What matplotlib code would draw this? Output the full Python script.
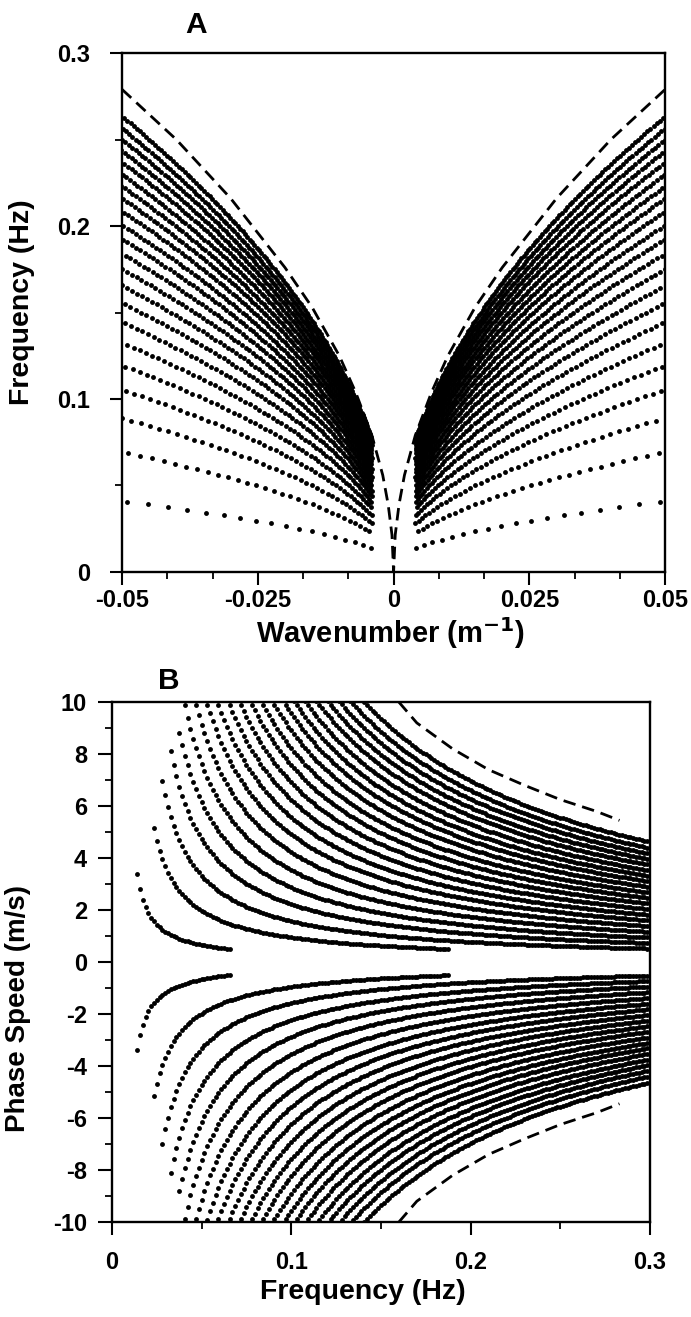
import numpy as np
import matplotlib.pyplot as plt
from matplotlib.ticker import MultipleLocator

plt.rcParams['font.family'] = ['Liberation Sans', 'DejaVu Sans']
plt.rcParams['font.weight'] = 'bold'
plt.rcParams['axes.labelweight'] = 'bold'

# frequency resolution of the dotted mode curves (Hz)
df = 1 / 640
# frequency of each mode curve at |k| = 0.05 m^-1
mode_f50 = [0.041, 0.0695, 0.089, 0.1055, 0.1195, 0.1325, 0.1445, 0.1555,
            0.1655, 0.175, 0.184, 0.1925, 0.2005, 0.2085, 0.216, 0.223,
            0.230, 0.237, 0.2435, 0.250, 0.2565, 0.2635]
# low-wavenumber frequency offset of each mode (from where the curves bend up in B)
mode_b = [0.008, 0.011, 0.0129, 0.0138, 0.0145, 0.015, 0.0155, 0.016,
          0.0163, 0.0166, 0.0169, 0.0172, 0.0174, 0.0176, 0.0178, 0.018,
          0.0182, 0.0183, 0.0184, 0.0185, 0.0186, 0.0187]
k_min = 0.004     # smallest wavenumber shown
c_min = 0.5       # smallest phase speed shown

# dashed curve, panel A
dashA_k = [0.0, 0.0003, 0.001, 0.002, 0.004, 0.007, 0.01, 0.015, 0.02, 0.03, 0.04, 0.05]
dashA_f = [0.0, 0.0215, 0.039, 0.056, 0.079, 0.104, 0.125, 0.153, 0.176, 0.216, 0.250, 0.279]
# dashed curve, panel B
dashB_f = [0.16, 0.17, 0.19, 0.21, 0.23, 0.25, 0.27, 0.283]
dashB_c = [10.0, 9.2, 8.2, 7.4, 6.8, 6.25, 5.8, 5.45]

fig = plt.figure(figsize=(6.91, 13.17), dpi=100)
axA = fig.add_axes([0.1766, 0.5657, 0.786, 0.394])
axB = fig.add_axes([0.162, 0.0721, 0.7786, 0.3948])

f_grid = np.arange(1, 200) * df
ms = 3.5

for f50, b in zip(mode_f50, mode_b):
    a2 = (f50 ** 2 - b ** 2) / 0.05
    k = (f_grid ** 2 - b ** 2) / a2
    ok = k > 0
    f = f_grid[ok]
    k = k[ok]
    c = f / k
    # panel A
    sel = (k >= k_min) & (k <= 0.0502)
    axA.plot(k[sel], f[sel], 'o', color='k', ms=ms, mec='none')
    axA.plot(-k[sel], f[sel], 'o', color='k', ms=ms, mec='none')
    # panel B
    sel = (k >= k_min) & (c >= c_min) & (f <= 0.3)
    axB.plot(f[sel], c[sel], 'o', color='k', ms=ms, mec='none')
    axB.plot(f[sel], -c[sel], 'o', color='k', ms=ms, mec='none')

dk = np.array(dashA_k)
dfa = np.array(dashA_f)
axA.plot(np.concatenate([-dk[::-1], dk[1:]]), np.concatenate([dfa[::-1], dfa[1:]]),
         color='k', lw=2.0, dashes=(4.5, 2.5))
axB.plot(dashB_f, dashB_c, color='k', lw=2.0, dashes=(4.5, 2.5))
axB.plot(dashB_f, [-c for c in dashB_c], color='k', lw=2.0, dashes=(4.5, 2.5))

axA.set_xlim(-0.05, 0.05)
axA.set_ylim(0, 0.3)
axA.set_xticks([-0.05, -0.025, 0, 0.025, 0.05])
axA.set_xticklabels(['-0.05', '-0.025', '0', '0.025', '0.05'])
axA.xaxis.set_minor_locator(MultipleLocator(0.025 / 3))
axA.set_yticks([0, 0.1, 0.2, 0.3])
axA.set_yticklabels(['0', '0.1', '0.2', '0.3'])
axA.yaxis.set_minor_locator(MultipleLocator(0.05))
axA.set_xlabel('Wavenumber (m$^{\\mathbf{-1}}$)', fontsize=21)
axA.set_ylabel('Frequency (Hz)', fontsize=20.5)
axA.xaxis.set_label_coords(0.494, -0.084)
axA.yaxis.set_label_coords(-0.16, 0.52)

axB.set_xlim(0, 0.3)
axB.set_ylim(-10, 10)
axB.set_xticks([0, 0.1, 0.2, 0.3])
axB.set_xticklabels(['0', '0.1', '0.2', '0.3'])
axB.xaxis.set_minor_locator(MultipleLocator(0.05))
axB.set_yticks(np.arange(-10, 11, 2))
axB.set_yticklabels([str(v) for v in range(-10, 11, 2)])
axB.yaxis.set_minor_locator(MultipleLocator(1))
axB.set_xlabel('Frequency (Hz)', fontsize=20.5)
axB.set_ylabel('Phase Speed (m/s)', fontsize=20)
axB.xaxis.set_label_coords(0.467, -0.11)
axB.yaxis.set_label_coords(-0.15, 0.41)

for ax in (axA, axB):
    for s in ax.spines.values():
        s.set_linewidth(1.7)
    ax.tick_params(which='major', direction='out', length=9, width=1.5,
                   labelsize=17)
    ax.tick_params(which='minor', direction='out', length=5, width=1.3)
axA.tick_params(axis='x', which='major', pad=3)
axA.tick_params(axis='y', which='major', pad=14)
axB.tick_params(axis='x', which='major', pad=12)
axB.tick_params(axis='y', which='major', length=10, pad=8)

fig.text(196 / 691, 1 - 25 / 1317, 'A', fontsize=21.5, fontweight='bold',
         ha='center', va='center')
fig.text(169 / 691, 1 - 681 / 1317, 'B', fontsize=21.5, fontweight='bold',
         ha='center', va='center')

fig.savefig('out.png', dpi=100)
